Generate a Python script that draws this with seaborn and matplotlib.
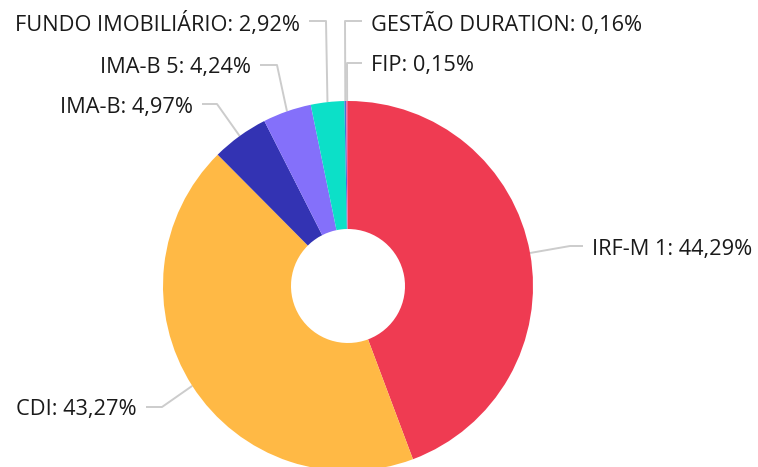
import matplotlib
matplotlib.use("Agg")
import matplotlib.pyplot as plt
import seaborn as sns
import numpy as np

categories = ["IRF-M 1", "CDI", "IMA-B", "IMA-B 5", "FUNDO IMOBILIÁRIO",
              "GESTÃO DURATION", "FIP"]
shares = [44.29, 43.27, 4.97, 4.24, 2.92, 0.16, 0.15]
colors = ["#EF3B52", "#FFB945", "#3333B3", "#8470FA", "#0CE0C8",
          "#4A6FD8", "#F25C8C"]

# leader line layout in pixels: (elbow x, elbow y, end x)
leaders = [(570, 246, 583), (162, 407, 146), (217, 104, 202), (277, 65, 260),
           (326, 21, 309), (345, 21, 362), (347, 63, 362)]

sns.set_theme(style="white")
plt.rcParams["font.family"] = ["Open Sans", "DejaVu Sans"]

W, H = 758, 467
cx, cy, R, r_in = 348, 286, 185, 57

fig = plt.figure(figsize=(W / 100, H / 100), dpi=100)
ax = fig.add_axes([0, 0, 1, 1])

wedges, _ = ax.pie(shares, colors=sns.color_palette(colors), center=(cx, cy),
                   radius=R, startangle=-90, counterclock=True,
                   wedgeprops=dict(width=R - r_in, linewidth=0))
ax.set_xlim(0, W)
ax.set_ylim(H, 0)
ax.set_aspect("equal")
ax.axis("off")

total = sum(shares)
cum = np.cumsum([0] + shares[:-1])
for name, val, c0, (ex, ey, endx) in zip(categories, shares, cum, leaders):
    theta = np.deg2rad(-90 + 360 * (c0 + val / 2) / total)
    sx, sy = cx + R * np.cos(theta), cy + R * np.sin(theta)
    ax.plot([sx, ex, endx], [sy, ey, ey], color="#cccccc", lw=1.4,
            solid_capstyle="butt", zorder=0)
    right = endx > ex
    tx = endx + 9 if right else endx - 9
    label = f"{name}: {val:.2f}%".replace(".", ",")
    ax.text(tx, ey + 3, label, ha="left" if right else "right", va="center",
            fontsize=15.7, color="#1a1a1a")

fig.savefig("out.png", dpi=100)
